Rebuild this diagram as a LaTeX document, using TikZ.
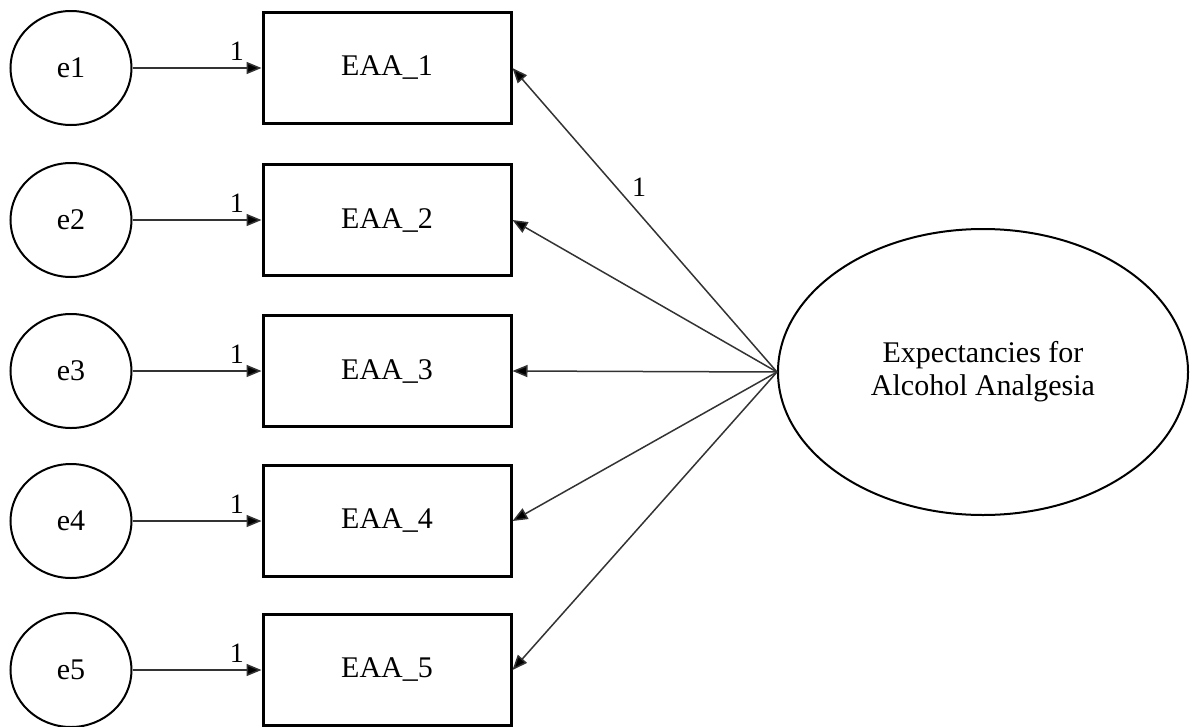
\documentclass[tikz,border=0pt]{standalone}
\usepackage{fontspec}
\setmainfont{Liberation Serif}
\usetikzlibrary{shapes.geometric,arrows.meta}
\begin{document}
\begin{tikzpicture}[x=1pt,y=-1pt,
  txt/.style={font=\fontsize{30}{33}\selectfont, text=black},
  errnode/.style={txt, draw, ellipse, line width=2pt, minimum width=121pt, minimum height=114pt, inner sep=0pt},
  obsbox/.style={txt, draw, rectangle, line width=3pt, minimum width=248pt, minimum height=111pt, inner sep=0pt},
  latent/.style={txt, draw, ellipse, line width=2pt, minimum width=410pt, minimum height=286pt, align=center, inner sep=0pt},
  conn/.style={draw=black!80, line width=1.5pt, -{Triangle[length=15pt,width=12pt,fill=black]}},
  lab/.style={font=\fontsize{28}{30}\selectfont, text=black, inner sep=0pt}
]
\useasboundingbox (0,0) rectangle (1191,726);
\foreach \i/\yy in {1/68,2/220,3/371,4/521,5/670}{
  \node[errnode] (e\i) at (71,\yy) {e\i};
  \node[obsbox] (b\i) at (387,\yy) {EAA\_\i};
  \draw[conn] (e\i.east) -- node[lab, pos=0.81, yshift=17pt]{1} (b\i.west);
}
\node[latent] (L) at (983,372) {Expectancies for\\Alcohol Analgesia};
\draw[conn] (L.west) -- node[lab, pos=0.57, xshift=13pt, yshift=11pt]{1} (b1.east);
\foreach \i in {2,3,4,5}{
  \draw[conn] (L.west) -- (b\i.east);
}
\end{tikzpicture}
\end{document}
